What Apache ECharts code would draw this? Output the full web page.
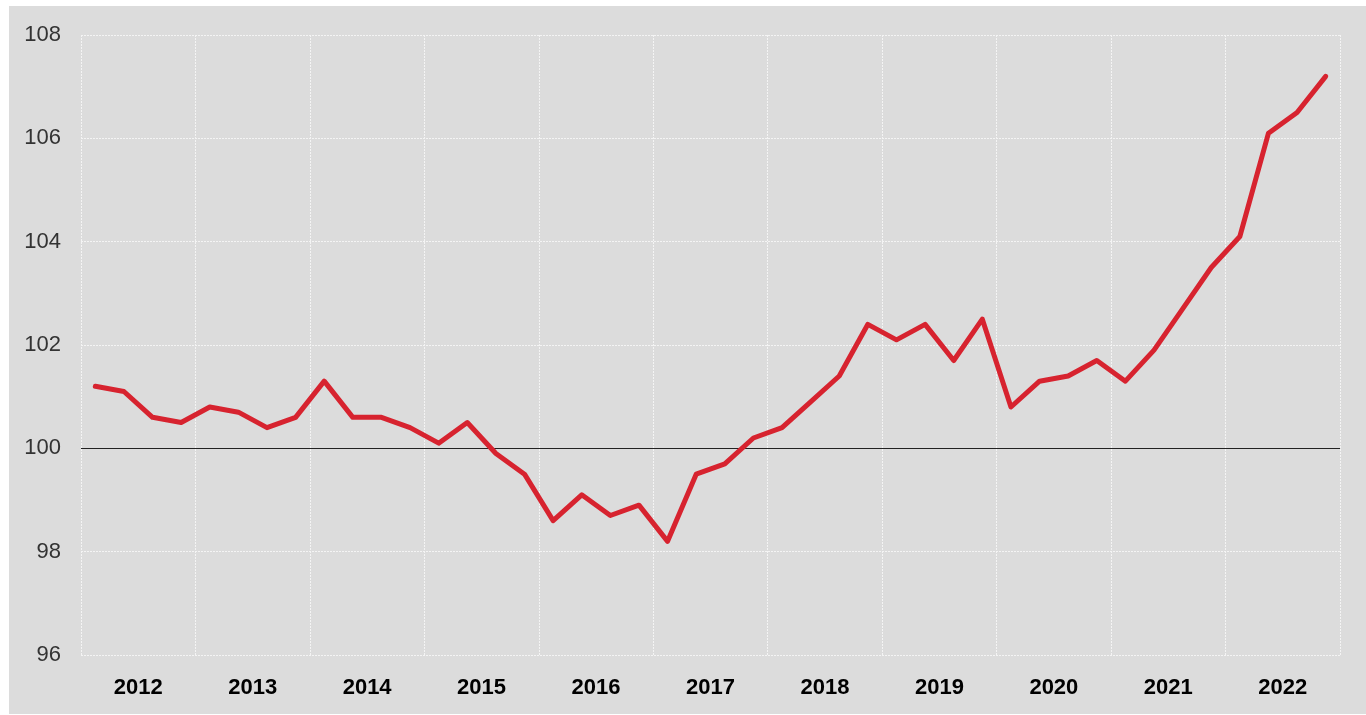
<!DOCTYPE html>
<html><head><meta charset="utf-8">
<script src="https://cdn.jsdelivr.net/npm/echarts@6/dist/echarts.min.js"></script>
<style>
html,body{margin:0;padding:0;background:#fff;width:1366px;height:715px;overflow:hidden}
#c{position:absolute;left:9px;top:6px;width:1357px;height:708px;background:#dcdcdc}
</style></head><body><div id="c"></div>
<script>
const years = ['2012','2013','2014','2015','2016','2017','2018','2019','2020','2021','2022'];
const quarters = [];
years.forEach(y => ['Q1','Q2','Q3','Q4'].forEach(q => quarters.push(y + ' ' + q)));
const values = [
  101.2, 101.1, 100.6, 100.5,
  100.8, 100.7, 100.4, 100.6,
  101.3, 100.6, 100.6, 100.4,
  100.1, 100.5, 99.9, 99.5,
  98.6, 99.1, 98.7, 98.9,
  98.2, 99.5, 99.7, 100.2,
  100.4, 100.9, 101.4, 102.4,
  102.1, 102.4, 101.7, 102.5,
  100.8, 101.3, 101.4, 101.7,
  101.3, 101.9, 102.7, 103.5,
  104.1, 106.1, 106.5, 107.2
];
const yTicks = [96, 98, 100, 102, 104, 106, 108];

const chart = echarts.init(document.getElementById('c'), null, {renderer:'canvas'});
const font = "'Liberation Sans Narrow','Arial Narrow','Liberation Sans',Arial,sans-serif";
chart.setOption({
  animation: false,
  backgroundColor: '#dcdcdc',
  grid: {left: 72, right: 26, top: 29, bottom: 59},
  xAxis: [{
    type: 'category', data: years, boundaryGap: true,
    axisLine: {show: false}, axisTick: {show: false},
    axisLabel: {color: '#000', fontFamily: font, fontWeight: 'bold', fontSize: 22, margin: 22},
    splitLine: {show: true, lineStyle: {color: '#f4f4f4', width: 1, type: [2, 1]}}
  }, {
    type: 'category', data: quarters, boundaryGap: true, show: false,
    gridIndex: 0
  }],
  yAxis: {
    type: 'value', min: yTicks[0], max: yTicks[yTicks.length - 1], interval: 2,
    axisLine: {show: false}, axisTick: {show: false},
    axisLabel: {color: '#333', fontFamily: font, fontSize: 22, margin: 20},
    splitLine: {show: true, lineStyle: {color: '#f4f4f4', width: 1, type: [2, 1]}}
  },
  series: [{
    type: 'line', xAxisIndex: 1, data: values,
    symbol: 'none', lineStyle: {color: '#d7232f', width: 5, join: 'round', cap: 'round'},
    z: 5,
    markLine: {
      silent: true, symbol: 'none', label: {show: false},
      lineStyle: {color: '#222', width: 1.2, type: 'solid'},
      data: [{yAxis: 100}], z: 3
    }
  }]
});
</script></body></html>
